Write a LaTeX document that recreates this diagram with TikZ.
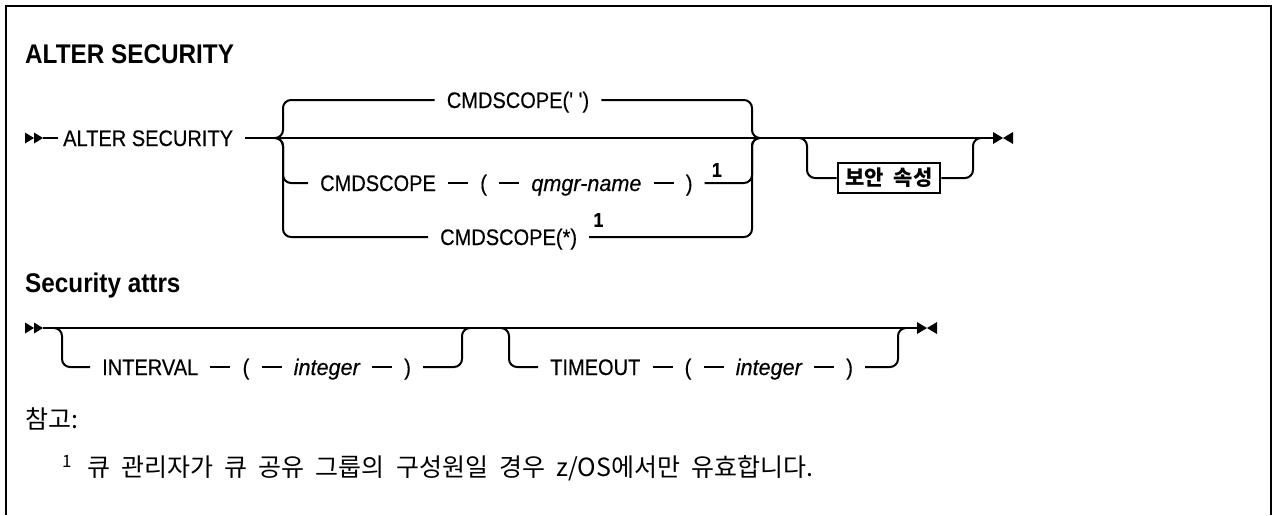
\documentclass[tikz,border=0pt]{standalone}
\usepackage{fontspec}
\setmainfont{Liberation Sans}
\newfontfamily\railfont[FakeStretch=0.89, FakeBold=0.4]{Liberation Sans}
\newfontfamily\varfont[FakeStretch=0.96, FakeBold=0.4]{Liberation Sans}
\newfontfamily\headfont[FakeStretch=0.9]{Liberation Sans}
\newfontfamily\krfont{Noto Sans CJK KR}
\newfontfamily\krnote[WordSpace=2]{Noto Sans CJK KR}
\usetikzlibrary{positioning, calc}

\tikzset{
  rail/.style={line width=2pt, rounded corners=8pt},
  kw/.style={font=\railfont\fontsize{22.5}{26}\selectfont, inner xsep=12pt, inner ysep=0pt, text height=16pt, text depth=0pt},
  var/.style={kw, font=\varfont\itshape\fontsize{22.5}{26}\selectfont},
  head/.style={font=\headfont\bfseries\fontsize{27}{32}\selectfont, anchor=base west, inner sep=0pt},
  fnum/.style={font=\railfont\bfseries\fontsize{20}{22}\selectfont, inner sep=0pt, anchor=south west},
  attrbox/.style={draw, line width=2pt, font=\krfont\bfseries\fontsize{21}{24}\selectfont, inner xsep=8pt, inner ysep=5pt},
  note/.style={font=\krnote\fontsize{25}{29}\selectfont, anchor=base west, inner sep=0pt},
}

\begin{document}
\begin{tikzpicture}[x=1pt, y=-1pt, node distance=20pt]
  \useasboundingbox (0,0) rectangle (1274,515);
  \draw[line width=2.5pt] (6,515) -- (6,6) -- (1271,6) -- (1271,515);

  \node[head] (title) at (25,63) {ALTER SECURITY};

  % first diagram
  \coordinate (s1) at (25,138);
  \node[kw, anchor=west, inner xsep=0pt] (alter) at (63,138) {ALTER SECURITY};
  \coordinate (a1) at (245,138);
  \coordinate (jL) at (275,138);
  \coordinate (jR) at (760,138);
  \node[kw] (dflt) at (518,100) {CMDSCOPE(' ')};
  \node[kw, anchor=west] (cs) at (308,183) {CMDSCOPE};
  \node[kw, right=of cs] (lp) {(};
  \node[var, right=of lp] (qm) {qmgr-name};
  \node[kw, right=of qm] (rp) {)};
  \node[fnum] (n1) at ($(rp.east)+(7,-6)$) {1};
  \node[kw, anchor=west] (all) at (428,237) {CMDSCOPE(*)};
  \node[fnum] (n2) at ($(all.east)+(4,-10)$) {1};
  \coordinate (oL) at (799,138);
  \node[attrbox] (sec) at (889,178) {보안 속성};
  \coordinate (oR) at (981,138);
  \coordinate (e1) at (993,138);

  \fill (s1) ++(0,-5.5) -- ++(9,5.5) -- ++(-9,5.5) -- cycle;
  \fill (s1) ++(9,-5.5) -- ++(9,5.5) -- ++(-9,5.5) -- cycle;
  \draw[rail] ($(s1)+(18,0)$) -- ($(alter.west)+(-5,0)$);
  \draw[rail] (a1) -- (e1);
  \draw[rail] (jL) -- ++(8,0) |- (dflt.west);
  \draw[rail] (dflt.east) -| ($(jR)+(-8,0)$) -- (jR);
  \draw[rail] (jL) -- ++(8,0) |- (cs.west);
  \draw[rail] (cs) -- (lp) -- (qm) -- (rp);
  \draw[rail] (rp.east) -| ($(jR)+(-8,0)$) -- (jR);
  \draw[rail] (jL) -- ++(8,0) |- (all.west);
  \draw[rail] (all.east) -| ($(jR)+(-8,0)$) -- (jR);
  \draw[rail] (oL) -- ++(8,0) |- (sec.west);
  \draw[rail] (sec.east) -| ($(oR)+(-8,0)$) -- (oR);
  \fill (e1) ++(0,-6) -- ++(10,6) -- ++(-10,6) -- cycle;
  \fill (e1) ++(20,-6) -- ++(-10,6) -- ++(10,6) -- cycle;

  \node[head] (attrs) at (25,292) {Security attrs};

  % second diagram
  \coordinate (s2) at (25,328);
  \coordinate (b1L) at (54,328);
  \node[kw, anchor=west] (iv) at (90,367) {INTERVAL};
  \node[kw, right=of iv] (lp2) {(};
  \node[var, right=of lp2] (int1) {integer};
  \node[kw, right=of int1] (rp2) {)};
  \coordinate (b1R) at (470,328);
  \coordinate (b2L) at (501,328);
  \node[kw, anchor=west] (to) at (538,367) {TIMEOUT};
  \node[kw, right=of to] (lp3) {(};
  \node[var, right=of lp3] (int2) {integer};
  \node[kw, right=of int2] (rp3) {)};
  \coordinate (b2R) at (906,328);
  \coordinate (e2) at (917,328);

  \fill (s2) ++(0,-5.5) -- ++(9,5.5) -- ++(-9,5.5) -- cycle;
  \fill (s2) ++(9,-5.5) -- ++(9,5.5) -- ++(-9,5.5) -- cycle;
  \draw[rail] ($(s2)+(18,0)$) -- (e2);
  \draw[rail] (b1L) -- ++(8,0) |- (iv.west);
  \draw[rail] (iv) -- (lp2) -- (int1) -- (rp2);
  \draw[rail] (rp2.east) -| ($(b1R)+(-8,0)$) -- (b1R);
  \draw[rail] (b2L) -- ++(8,0) |- (to.west);
  \draw[rail] (to) -- (lp3) -- (int2) -- (rp3);
  \draw[rail] (rp3.east) -| ($(b2R)+(-8,0)$) -- (b2R);
  \fill (e2) ++(0,-6) -- ++(10,6) -- ++(-10,6) -- cycle;
  \fill (e2) ++(20,-6) -- ++(-10,6) -- ++(10,6) -- cycle;

  % notes
  \node[note] (ref) at (25,428) {참고:};
  \node[note] (fn) at (62,476) {\raisebox{9pt}{\fontsize{17}{19}\selectfont 1}\, 큐 관리자가 큐 공유 그룹의 구성원일 경우 z/OS에서만 유효합니다.};
\end{tikzpicture}
\end{document}
